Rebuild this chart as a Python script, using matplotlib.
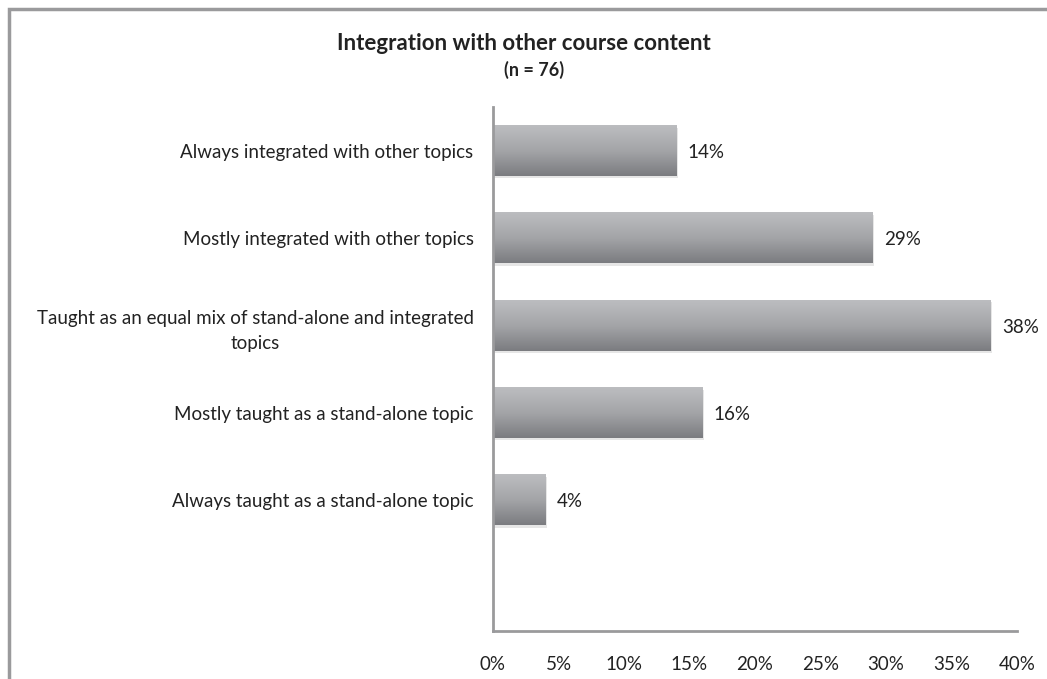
import numpy as np
import matplotlib.pyplot as plt
from matplotlib.patches import Rectangle
from matplotlib.colors import LinearSegmentedColormap

categories = [
    "Always integrated with other topics",
    "Mostly integrated with other topics",
    "Taught as an equal mix of stand-alone and integrated\ntopics",
    "Mostly taught as a stand-alone topic",
    "Always taught as a stand-alone topic",
]
values = [14, 29, 38, 16, 4]
value_labels = ["14%", "29%", "38%", "16%", "4%"]
xticks = [0, 5, 10, 15, 20, 25, 30, 35, 40]

plt.rcParams['font.family'] = ['Lato', 'DejaVu Sans']

fig = plt.figure(figsize=(10.47, 6.79), dpi=100)
ax = fig.add_axes([493 / 1047, 1 - 631 / 679, (1017 - 493) / 1047, (631 - 107) / 679])

# outer frame (cut off on right and bottom like the source)
fig.patches.append(Rectangle((9 / 1047, -0.1), 1.2, 1 - 9 / 679 + 0.1,
                             transform=fig.transFigure, fill=False,
                             edgecolor='#9a9a9c', linewidth=2.5))

grad = np.linspace(0, 1, 100).reshape(-1, 1)
cmap = LinearSegmentedColormap.from_list('bar', ['#bcbdc0', '#a4a5a8', '#7b7c80'])

fs = 13.5
h = 0.58
for i, v in enumerate(values):
    # soft shadow
    ax.add_patch(Rectangle((0, i - h / 2 + 0.025), v + 0.1, h, facecolor='#e6e6e6',
                           edgecolor='none', zorder=1))
    ax.imshow(grad, extent=(0, v, i + h / 2, i - h / 2), cmap=cmap, aspect='auto',
              zorder=2, interpolation='bilinear')
    ax.text(v + 0.85, i + 0.02, value_labels[i], va='center', ha='left', fontsize=fs,
            color='#222222')

ax.set_xlim(0, 40)
ax.set_ylim(5.5, -0.5)
ax.set_xticks(xticks)
ax.set_xticklabels([f"{t}%" for t in xticks], fontsize=fs, color='#222222')
ax.set_yticks(range(len(categories)))
ax.set_yticklabels(categories, fontsize=fs, color='#222222', multialignment='center',
                   linespacing=1.55)
ax.tick_params(axis='both', length=0)
ax.tick_params(axis='x', pad=18)
ax.tick_params(axis='y', pad=14)
for s in ['top', 'right']:
    ax.spines[s].set_visible(False)
for s in ['left', 'bottom']:
    ax.spines[s].set_color('#9a9a9c')
    ax.spines[s].set_linewidth(2)

fig.text(0.5, 1 - 44 / 679, "Integration with other course content", ha='center',
         va='center', fontsize=16, fontweight='bold', color='#222222')
fig.text(0.51, 1 - 70 / 679, "(n = 76)", ha='center', va='center', fontsize=13,
         fontweight='bold', color='#222222')

fig.savefig('out.png', dpi=100)
